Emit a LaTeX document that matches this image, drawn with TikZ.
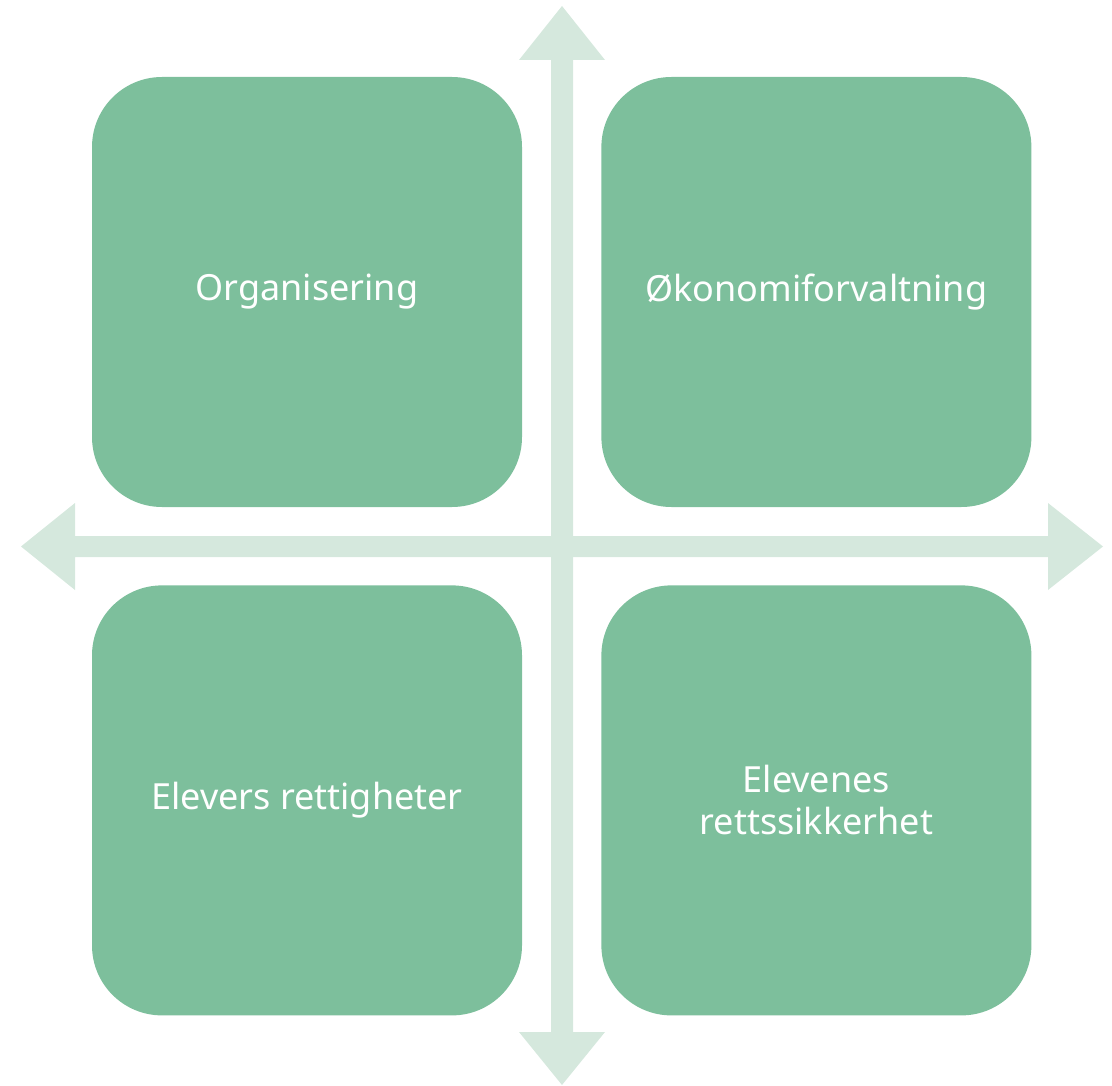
\documentclass[tikz,border=0pt]{standalone}
\usepackage{fontspec}
\setmainfont{Noto Sans}
\usetikzlibrary{positioning}
\definecolor{boxgreen}{HTML}{7DBF9C}
\definecolor{crossgreen}{HTML}{D5E8DD}
\tikzset{
  area/.style={fill=boxgreen,draw=none,rounded corners=70pt,minimum width=430pt,
    minimum height=430pt,inner sep=0pt,text=white,align=center,
    font=\fontsize{36}{42}\selectfont},
}

\begin{document}
\begin{tikzpicture}[x=1pt,y=-1pt]
\useasboundingbox (0,0) rectangle (1112,1086);
% cross with four arrow heads
\fill[crossgreen] (551,60) -- (519,60) -- (562,6) -- (605,60) -- (573,60)
  -- (573,1032) -- (605,1032) -- (562,1085) -- (519,1032) -- (551,1032) -- cycle;
\fill[crossgreen] (75,536) -- (75,503) -- (21,546.5) -- (75,590) -- (75,557)
  -- (1048,557) -- (1048,590) -- (1103,546.5) -- (1048,503) -- (1048,536) -- cycle;
% quadrants
\node[area] (org) at (307,292) {Organisering};
\node[area,right=79pt of org] (oko) {Økonomiforvaltning};
\node[area,below=78pt of org] (rett) {Elevers rettigheter};
\node[area,below=78pt of oko] (sikk) {Elevenes\\rettssikkerhet};
\end{tikzpicture}
\end{document}
